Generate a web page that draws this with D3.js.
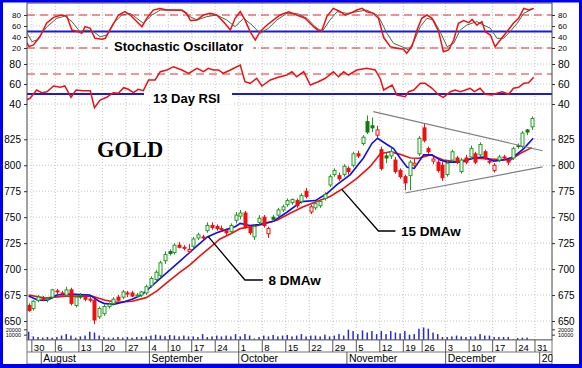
<!DOCTYPE html>
<html><head><meta charset="utf-8">
<script src="https://cdn.jsdelivr.net/npm/d3@7"></script>
<style>body{margin:0;background:#fff}svg{display:block}text{font-family:"Liberation Sans",Arial,sans-serif}</style>
</head><body><svg id="c" width="582" height="368"></svg>
<script>
// ---- DATA (trading-day index: 0 = Mon 30 Jul 2007; first bar is day -1) ----
const firstDay = -1;
const opens  = [665,662,670,672,671,673,679,677,675,680,665,674,673,671,670,654,657,664,667,673,673,677,677,674,675,677,684,690,694,708,717,716,723,721,717,722,730,731,737,742,741,739,737,736,747,751,754,740,731,745,750,734,750,752,757,762,764,766,765,775,755,759,761,768,781,791,790,791,797,800,811,821,842,838,829,815,809,809,805,795,789,790,800,811,836,816,804,803,800,791,805,807,794,807,808,811,810,813,804,795,805,808,805,807,819,818,834,837];
const highs  = [667,670,675,674,673,681,681,679,683,682,675,677,674,673,671,664,666,668,673,675,680,679,679,677,679,685,693,699,708,717,719,725,726,723,724,731,735,733,745,745,743,742,739,744,755,757,756,742,743,752,752,741,752,759,762,768,768,768,773,778,762,765,767,774,791,797,793,801,799,813,814,829,848,846,838,818,812,817,808,797,791,805,806,828,840,818,808,805,803,804,815,809,807,810,819,813,822,815,806,802,810,810,806,818,821,833,835,847];
const lows   = [659,660,668,669,668,671,676,674,673,665,663,671,669,668,647,652,655,662,665,669,671,673,673,672,673,675,682,688,692,705,713,714,720,718,715,720,728,728,735,738,737,736,733,734,744,748,739,733,728,743,740,730,746,750,755,760,762,759,763,768,753,757,759,766,779,789,785,789,791,798,807,819,830,832,826,795,802,806,792,787,776,776,798,809,822,811,801,793,785,789,803,801,792,801,806,801,808,805,801,793,803,805,800,805,816,816,829,834];
const closes = [660,669,673,671,672,680,678,676,680,667,673,673,671,670,651,662,664,666,671,670,678,676,674,675,678,683,691,697,706,714,715,723,721,720,719,729,733,730,742,740,739,738,735,742,752,754,741,735,741,749,742,739,748,757,760,766,767,761,771,770,760,763,765,772,789,795,787,799,794,811,809,827,832,836,834,797,807,813,794,789,783,803,802,826,824,813,806,795,788,802,813,803,805,803,816,803,820,807,803,800,808,807,803,816,818,831,832,845];
const volumes = [15500,6700,5600,4400,5600,4400,5600,8300,11100,8300,4400,6700,8300,15500,13900,8300,5600,4400,4400,5600,4400,5600,4400,5600,5600,6700,8300,10000,8300,7200,9400,8300,6700,8300,6700,
 6700,5600,11100,5600,6700,8300,6700,8300,6700,11100,6700,11100,8300,2800,5600,8300,6700,9400,6700,8300,9400,6700,8300,11100,6700,8300,8300,6700,10000,6700,8300,11100,8300,19400,16700,11100,17800,13900,16700,
 11100,
 16700,11100,16700,13900,12200,16700,10000,11100,21100,23300,21100,13900,11100,5600,5600,6700,8300,6700,5600,6700,6700,11100,8300,8300,5600,5600,5600,5600,1100,3900,4400,4400,0];

// 8-day weighted MA (blue) and 15-day weighted MA (red)
const ma8Days = [-1,1,3,5,8,12,14,15,17,19,21,23,25,27,29,31,33,35,37,39,41,43,44,46,48,51,54,57,60,62.5,64.5,67.4,70.2,72,73.2,75.2,76.6,78,79.5,81,83,84.8,86.5,88,91,93.6,95.7,97.9,100,102.1,104.3,106.3];
const ma8 = [674,670,670,675,676,675,669,667,666,668,671,675,683,691,699,707,715,723,731,735,738,741,744,742,743,746,755,765,766,773,781,791,807,821,826,820,816,807,798,797,810,810,805,803,803,807,808,804,805,808,816,826];
const ma15Days = [-1,2.5,6.7,12.4,15.3,17.8,21,24,26.3,28.4,31.2,33.3,35.5,37.6,39.7,42,44,48.2,51.8,54.6,57.4,60.3,63.1,66,68.8,71.6,73.8,75.9,78,80.2,82,84.4,87.2,90.1,93.6,97.2,101.4,103.6,106];
const ma15 = [675,672,674,674,670,668,669,672.5,679,687,697,704,713,721,729,734,739,742.5,747,753.7,760,765,770,778,787.4,798.6,811,813,810.5,807,806.7,810,805,803.4,806.7,806,805,811.5,817];

// Stochastic oscillator %K (red) and %D (dark)
const stochKDays = [-1.5,-0.9,0,1.4,2.8,4.3,6,7.1,8.2,9.6,10.3,11,12.1,13.1,14.6,15.3,16.7,18.1,19.5,20.6,23.1,24.1,25.5,26.9,28.4,29.8,31.6,32.6,33.4,34.8,36.2,37.6,39,40.4,41.9,42.9,44,45,46.1,47.2,48.2,49.7,51.1,52.5,54.3,56,57.8,59.6,60.6,61.4,62.4,63.8,65.3,66.3,67.4,68.8,69.9,70.9,72.3,73.4,74.5,75.9,77.3,78.7,79.4,80.5,81.6,82.6,83.7,84.8,86.2,87.2,88.3,89.4,90.4,91.5,92.6,93.3,94.3,95.4,96.1,97.2,98.2,99.3,100.7,102.1,103.2,104.3,105.3,106.4];
const stochK = [31.5,22.4,25.5,40.5,65,75.8,80,78,52.7,49.7,46.7,58.8,55.8,37.6,35.8,37.6,58.8,80,86,80,58.8,74,89,92,89,89,89,83,70,71,80,83,80,68,52.7,74,86,71,49.7,34.5,49.7,61.8,71,80,86,80,74,58.8,51.5,52.7,77,92,86,80,83,89,92,86,83,74,39,22.4,19.4,17.6,10.4,22.4,52.7,74,80,74,49.7,13.3,16.4,34.5,65,69.7,66,72,61.8,68,49.7,43.6,22.4,34.5,49.7,65,74,92,89,92];
const stochDDays = [-1.5,-0.3,0.7,2.9,5,6.7,8.2,9.9,11.4,12.8,14.2,15.6,17,18.8,20.6,22,23.4,25.2,27,29.8,31.6,33.3,34.8,36.9,39,41.1,42.9,44.7,46.5,48.2,50,51.8,53.9,56,58.2,59.9,61.4,63.1,64.6,66.7,68.8,70.9,73.1,73.8,74.5,75.2,76.6,78.4,79.8,80.9,82.3,83.7,85.1,86.5,88,89.4,90.8,92.2,94.3,95.7,97.2,98.6,100,101.4,102.9,104.3,106.4];
const stochD = [49.7,31.5,34.5,58.8,74,78,68,49.7,52.7,49.7,40.5,43.6,65,80,83,74,65,80,89,89,88,77,71,77,80,71,58.8,74,61.8,46.7,55.8,71,83,83,74,58.8,49.7,71,86,83,86,89,80,71,58.8,46.7,28.5,22.4,16.4,31.5,58.8,74,71,49.7,22.4,28.5,52.7,61.8,68,61.8,55.8,37.6,37.6,49.7,65,83,92];

// 13-day RSI
const rsiDays = [-1.5,-0.7,0.7,1.8,2.9,4.3,5.7,6.7,8,9.1,10.6,12.1,13,14.2,15.6,17,18.1,19.2,20.2,21.3,22.3,23.4,24.5,25.9,27,28.4,29.8,31.6,33,34.8,36.2,37.2,38.3,39.4,40.4,41.9,44,45,46.1,47.5,48.6,50.4,52.1,53.9,55,56,57.5,58.9,60.6,62.1,63.8,64.9,66,67,68.8,70.9,72.7,73.8,74.5,76.3,77.3,79.1,79.8,80.9,82.3,83.3,84.8,86.2,87.2,88.7,89.7,90.8,91.9,92.9,93.8,95,96.1,97.5,98.6,99.7,101.1,102.1,103.2,104.3,105.3,106.4];
const rsi = [44,45.7,54,51.3,52.3,58,56.7,58,46.7,54,53.3,53.3,36.3,44,46.7,51.3,50.7,56.3,54.7,51.3,54.7,53.3,64,64,72.3,74,77.3,74,70.7,75.7,72.3,75.7,74,74,70.7,74,79,62.3,60.7,65.7,58,64,66.7,69,72.3,67.3,72.3,59,62.3,65.7,72.3,67.3,72.3,69,74,75.7,74,65,54,59,49,47.3,52.3,54,60.7,60.7,55.7,49,46.7,52.3,54,52.3,54,55.7,52.3,55.7,49.7,49,50.7,52.3,49.7,55.7,56.7,60.7,61.3,66.7];

// Axis ticks and labels
const weekDays = [0,5,10,15,20,25,29,34,39,44,49,54,59,64,69,74,79,83,88,93,98,103,107];
const weekLabels = ["30","6","13","20","27","4","10","17","24","1","8","15","22","29","5","12","19","26","3","10","17","24","31"];
const monthDays = [2,25,44,67,88,108];
const monthLabels = ["August","September","October","November","December","2008"];
const priceTicks = [650,675,700,725,750,775,800,825];
const stochTicks = [20,40,60,80];
const rsiTicks = [40,60,80];
const volTicks = [10000,20000];

// ---- DRAWING ----
const svg = d3.select('#c');
const W = 582, H = 368, L = 27, R = 552, T = 3, B = 340;
const x = d3.scaleLinear().domain([-1.35, 110.3]).range([L, R]);
const yS = d3.scaleLinear().domain([0, 100]).range([59, 4]);
const yR = d3.scaleLinear().domain([40, 80]).range([104, 64]);
const yP = d3.scaleLinear().domain([650, 825]).range([321, 139.3]);
const yV = d3.scaleLinear().domain([0, 20000]).range([340, 329.3]);

svg.append('rect').attr('width', W).attr('height', H).attr('fill', '#fff');
svg.append('defs').append('clipPath').attr('id', 'pc')
  .append('rect').attr('x', L).attr('y', T).attr('width', R - L).attr('height', B - T);
svg.append('defs').append('clipPath').attr('id', 'dc')
  .append('rect').attr('x', L).attr('y', B).attr('width', R - L + 0.5).attr('height', 26);

const grid = svg.append('g').attr('stroke', '#c4c4c4').attr('stroke-dasharray', '1,2').attr('stroke-width', 1);
weekDays.forEach(d => grid.append('line').attr('x1', x(d) - 1.5).attr('x2', x(d) - 1.5).attr('y1', T).attr('y2', B));
const hLines = [...stochTicks.map(v => yS(v)), ...rsiTicks.map(v => yR(v)), ...priceTicks.map(v => yP(v))];
hLines.forEach(yy => grid.append('line').attr('x1', L).attr('x2', R).attr('y1', yy).attr('y2', yy));

const plot = svg.append('g').attr('clip-path', 'url(#pc)');

// reference lines
plot.append('line').attr('x1', L).attr('x2', R).attr('y1', yS(80)).attr('y2', yS(80)).attr('stroke', '#e03030').attr('stroke-dasharray', '8,5');
plot.append('line').attr('x1', L).attr('x2', R).attr('y1', yS(20)).attr('y2', yS(20)).attr('stroke', '#e03030').attr('stroke-dasharray', '8,5');
plot.append('line').attr('x1', L).attr('x2', R).attr('y1', yS(50)).attr('y2', yS(50)).attr('stroke', '#1a1ad8').attr('stroke-width', 2);
plot.append('line').attr('x1', L).attr('x2', R).attr('y1', yR(70)).attr('y2', yR(70)).attr('stroke', '#e03030').attr('stroke-dasharray', '8,5');
plot.append('line').attr('x1', L).attr('x2', R).attr('y1', yR(50)).attr('y2', yR(50)).attr('stroke', '#1a1ad8').attr('stroke-width', 2);

// stochastic
const lineOf = (days, vals, ys) => d3.line().x((d, i) => x(days[i])).y(d => ys(d))(vals);
plot.append('path').attr('d', lineOf(stochDDays, stochD, yS)).attr('fill', 'none').attr('stroke', '#4d6650').attr('stroke-width', 1);
plot.append('path').attr('d', lineOf(stochKDays, stochK, yS)).attr('fill', 'none').attr('stroke', '#ee1111').attr('stroke-width', 1.5);
// RSI
plot.append('path').attr('d', lineOf(rsiDays, rsi, yR)).attr('fill', 'none').attr('stroke', '#ee1111').attr('stroke-width', 1.5);

// label boxes
const lab = svg.append('g');
lab.append('rect').attr('x', 108).attr('y', 39.5).attr('width', 145).attr('height', 15).attr('fill', '#fff');
lab.append('text').attr('x', 114).attr('y', 50.5).attr('font-size', 13).attr('font-weight', 'bold').text('Stochastic Oscillator');
lab.append('rect').attr('x', 144).attr('y', 91.5).attr('width', 88).attr('height', 13).attr('fill', '#fff');
lab.append('text').attr('x', 153).attr('y', 103).attr('font-size', 13).attr('font-weight', 'bold').text('13 Day RSI');

// volume
plot.append('g').selectAll('rect').data(volumes).join('rect')
  .attr('x', (d, i) => x(firstDay + i) - 0.75).attr('width', 1.5)
  .attr('y', d => yV(d)).attr('height', d => yV(0) - yV(d)).attr('fill', '#2a2ad0');

// moving averages
plot.append('path').attr('d', lineOf(ma15Days, ma15, yP)).attr('fill', 'none').attr('stroke', '#ee1111').attr('stroke-width', 1.6);
plot.append('path').attr('d', lineOf(ma8Days, ma8, yP)).attr('fill', 'none').attr('stroke', '#1010e0').attr('stroke-width', 1.6);

// candles
const cg = plot.append('g');
closes.forEach((c, i) => {
  const o = opens[i], prev = i > 0 ? closes[i - 1] : o;
  const col = c >= prev ? '#1e9e1e' : '#ee1111';
  const dark = c >= prev ? '#137a13' : '#ee1111';
  const cx = Math.round(x(firstDay + i)) + 0.5;
  cg.append('line').attr('x1', cx).attr('x2', cx).attr('y1', yP(highs[i])).attr('y2', yP(lows[i])).attr('stroke', col).attr('stroke-width', 1);
  const top = yP(Math.max(o, c)), bot = yP(Math.min(o, c));
  const hollow = c > o;
  cg.append('rect').attr('x', cx - 1.5).attr('width', 3).attr('y', top).attr('height', Math.max(1, bot - top))
    .attr('fill', hollow ? '#fff' : dark).attr('stroke', hollow ? col : dark).attr('stroke-width', 1);
});

// triangle
const tri = plot.append('g').attr('stroke', '#808080').attr('stroke-width', 1.2);
tri.append('line').attr('x1', x(72.3)).attr('y1', yP(851.6)).attr('x2', x(108.3)).attr('y2', yP(814));
tri.append('line').attr('x1', x(79.1)).attr('y1', yP(773.3)).attr('x2', x(108.3)).attr('y2', yP(798.5));

// annotations
const ann = svg.append('g');
ann.append('path').attr('d', d3.line()([[x(37.2), yP(731.2)], [x(45), yP(689.5)], [x(48.8), yP(689.5)]])).attr('fill', 'none').attr('stroke', '#000').attr('stroke-width', 1.3);
ann.append('text').attr('x', x(50)).attr('y', yP(689.5) + 5).attr('font-size', 13.5).attr('font-weight', 'bold').text('8 DMAw');
ann.append('path').attr('d', d3.line()([[x(65.6), yP(776.8)], [x(73.4), yP(736.7)], [x(77), yP(736.7)]])).attr('fill', 'none').attr('stroke', '#000').attr('stroke-width', 1.3);
ann.append('text').attr('x', x(78.2)).attr('y', yP(736.7) + 5).attr('font-size', 13.5).attr('font-weight', 'bold').text('15 DMAw');
ann.append('text').attr('x', 97).attr('y', 157).attr('font-size', 22.5).attr('font-weight', 'bold')
  .style('font-family', '"Liberation Serif","Times New Roman",serif').text('GOLD');

// frame
svg.append('rect').attr('x', L).attr('y', T).attr('width', R - L).attr('height', B - T).attr('fill', 'none').attr('stroke', '#444').attr('stroke-width', 1);

// axes
function axes(scale, ticks, fs, fmt) {
  const gl = svg.append('g').attr('transform', `translate(${L},0)`)
    .call(d3.axisLeft(scale).tickValues(ticks).tickSize(3).tickPadding(3).tickFormat(fmt || d3.format('d')));
  const gr = svg.append('g').attr('transform', `translate(${R},0)`)
    .call(d3.axisRight(scale).tickValues(ticks).tickSize(3).tickPadding(3).tickFormat(fmt || d3.format('d')));
  [gl, gr].forEach(g => {
    g.select('.domain').remove();
    g.selectAll('text').attr('font-size', fs).attr('fill', '#000').style('font-family', '"Liberation Sans",Arial,sans-serif');
    g.selectAll('line').attr('stroke', '#333');
  });
}
axes(yS, stochTicks, 8);
axes(yR, rsiTicks, 10.5);
axes(yP, priceTicks, 10);
axes(yV, volTicks, 5.5);

// date rows
const dg = svg.append('g');
dg.append('rect').attr('x', L).attr('y', B).attr('width', R - L).attr('height', 24).attr('fill', '#fff').attr('stroke', '#777');
dg.append('line').attr('x1', L).attr('x2', R).attr('y1', 352).attr('y2', 352).attr('stroke', '#777');
const dc = dg.append('g').attr('clip-path', 'url(#dc)');
weekDays.forEach((d, i) => {
  dc.append('line').attr('x1', x(d) - 1.5).attr('x2', x(d) - 1.5).attr('y1', B).attr('y2', 352).attr('stroke', '#555');
  dc.append('text').attr('x', x(d) + 0.5).attr('y', 350.5).attr('font-size', 9.5).text(weekLabels[i]);
});
monthDays.forEach((d, i) => {
  dc.append('line').attr('x1', x(d) - 1.5).attr('x2', x(d) - 1.5).attr('y1', 352).attr('y2', 364).attr('stroke', '#555');
  dc.append('text').attr('x', x(d) + 0.5).attr('y', 362).attr('font-size', 10.5).text(monthLabels[i]);
});

// outer blue border
svg.append('rect').attr('x', 1.5).attr('y', 1).attr('width', W - 3).attr('height', H - 3).attr('fill', 'none').attr('stroke', '#0000f0').attr('stroke-width', 3);
svg.append('line').attr('x1', 0).attr('x2', W).attr('y1', 366).attr('y2', 366).attr('stroke', '#0000f0').attr('stroke-width', 4);
</script></body></html>
